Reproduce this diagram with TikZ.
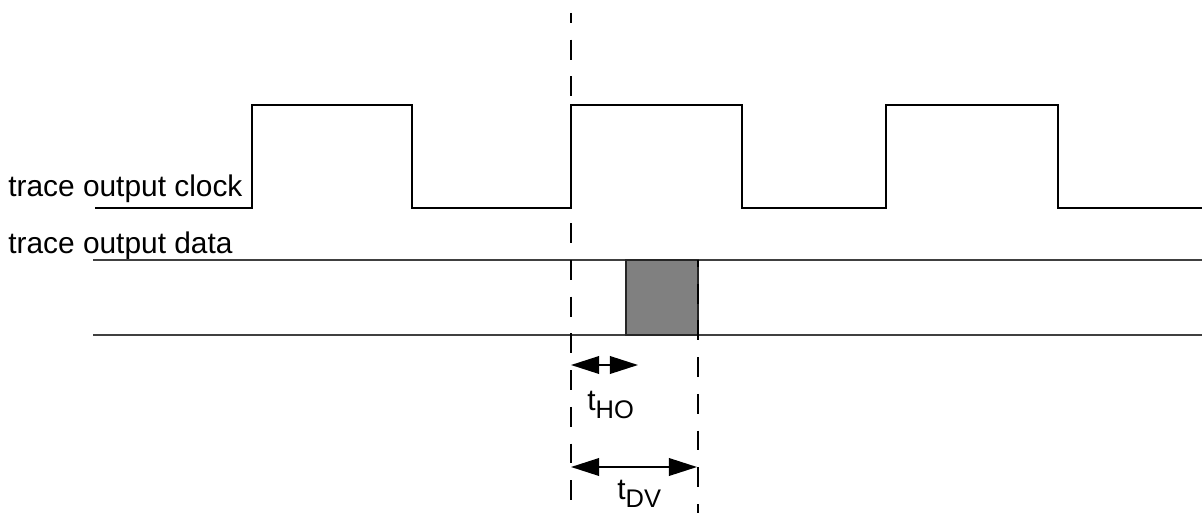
\documentclass[tikz,border=0pt]{standalone}
\usepackage{fontspec}
\setmainfont{Liberation Sans}
\usetikzlibrary{arrows.meta,positioning}
\tikzstyle{wave} = [line width=1.1pt,black]
\tikzstyle{bus} = [line width=0.6pt,black!75]
\tikzstyle{marker} = [line width=0.9pt,dash pattern=on 11.3pt off 9.6pt]
\tikzstyle{dim} = [line width=1.1pt,{Triangle[length=16pt,width=10pt]}-{Triangle[length=16pt,width=10pt]}]
\tikzstyle{lbl} = [inner sep=0pt,anchor=base west,font=\fontsize{17}{19}\selectfont]

\begin{document}
\begin{tikzpicture}[x=0.02cm,y=-0.02cm]
\useasboundingbox (0,0) rectangle (1202,513);

% Signal names
\node[lbl] (clklbl) at (8,196) {trace output clock};
\node[lbl] (datalbl) at (8,253) {trace output data};

% Clock
\draw[wave] (95,208) -| (252,105) -| (412,208) -| (571,105) -| (742,208)
  -| (886,105) -| (1058,208) -- (1202,208);

% Data
\draw[bus] (93,260) -- (1202,260);
\draw[bus] (93,335) -- (1202,335);
\draw[bus, fill=black!50, draw=black!85, line width=0.9pt] (626,260) rectangle (698,335);

% Reference edges
\coordinate (edgeT) at (571,13);
\coordinate (edgeB) at (571,513);
\coordinate (validT) at (698,260);
\coordinate (validB) at (698,513);
\draw[marker, dash phase=5.7pt] (edgeT) -- (edgeB);
\draw[marker, dash phase=7.4pt] (validT) -- (validB);

% Hold time
\coordinate (hoL) at (571,365);
\coordinate (hoR) at (638,365);
\draw[dim] (hoL) -- (hoR);
\node[lbl] (holbl) at (587,410) {t\raisebox{-5pt}{\fontsize{14.5}{15}\selectfont HO}};

% Data valid
\coordinate (dvL) at (571,467);
\coordinate (dvR) at (697,467);
\draw[dim] (dvL) -- (dvR);
\node[lbl] (dvlbl) at (617,499) {t\raisebox{-5pt}{\fontsize{14.5}{15}\selectfont DV}};
\end{tikzpicture}
\end{document}
